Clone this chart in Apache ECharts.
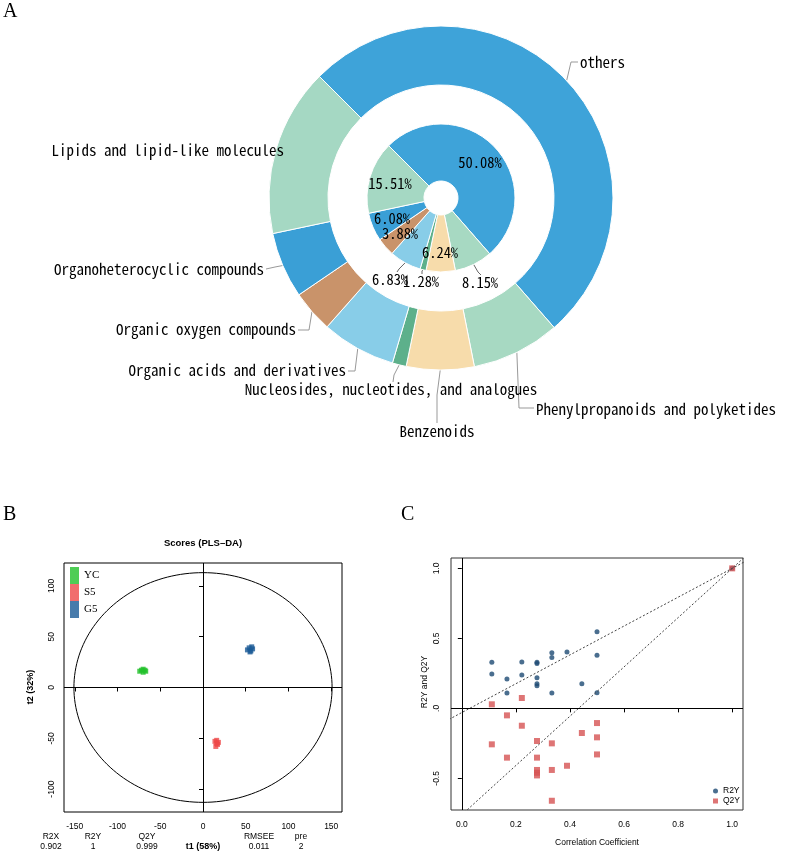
<!DOCTYPE html>
<html><head><meta charset="utf-8">
<script src="https://cdn.jsdelivr.net/npm/echarts@6/dist/echarts.min.js"></script>
<style>html,body{margin:0;padding:0;background:#fff}#c{width:800px;height:851px}</style>
</head><body><div id="c"></div>
<script>
// ---------- Panel A data ----------
const pieCategories = ['others', 'Phenylpropanoids and polyketides', 'Benzenoids',
  'Nucleosides, nucleotides, and analogues', 'Organic acids and derivatives',
  'Organic oxygen compounds', 'Organoheterocyclic compounds', 'Lipids and lipid-like molecules'];
const piePercents = [50.08, 8.15, 6.24, 1.28, 6.83, 3.88, 6.08, 15.51];
const pieColors = ['#3ea3d9', '#a7d9c2', '#f7dcab', '#5db08b', '#88cde8', '#c9936a', '#3a9fd6', '#a5d8c3'];
const innerLabelOutside = [false, true, false, true, true, false, false, false];

// ---------- Panel B data ----------
const plsGroups = ['YC', 'S5', 'G5'];
const plsColors = ['#22c02a', '#ee4848', '#1a5a96'];
const plsYC = [[-74, 16], [-72, 17], [-70, 15], [-68, 17], [-70, 18], [-67, 16]];
const plsS5 = [[14, -53], [16, -52], [17, -56], [15, -58], [18, -54], [16, -55]];
const plsG5 = [[52, 37], [54, 39], [56, 36], [58, 38], [57, 40], [55, 35]];
const plsXTicks = [-150, -100, -50, 0, 50, 100, 150];
const plsYTicks = [-100, -50, 0, 50, 100];
const ellipseRadiusX = 151, ellipseRadiusY = 113;
const statNames = ['R2X', 'R2Y', 'Q2Y', 'RMSEE', 'pre'];
const statValues = ['0.902', '1', '0.999', '0.011', '2'];

// ---------- Panel C data ----------
const permR2Y = [[0.111, 0.329], [0.111, 0.245], [0.167, 0.210], [0.167, 0.110], [0.222, 0.331], [0.222, 0.238],
  [0.278, 0.329], [0.278, 0.321], [0.278, 0.219], [0.278, 0.176], [0.278, 0.162], [0.333, 0.398], [0.333, 0.364],
  [0.333, 0.110], [0.389, 0.402], [0.444, 0.176], [0.5, 0.548], [0.5, 0.379], [0.5, 0.112], [1.0, 1.0]];
const permQ2Y = [[0.111, 0.029], [0.111, -0.257], [0.167, -0.050], [0.167, -0.352], [0.222, 0.074], [0.222, -0.124],
  [0.278, -0.233], [0.278, -0.352], [0.278, -0.440], [0.278, -0.460], [0.278, -0.479], [0.333, -0.250], [0.333, -0.440],
  [0.333, -0.660], [0.389, -0.410], [0.444, -0.176], [0.5, -0.105], [0.5, -0.207], [0.5, -0.329], [1.0, 1.0]];
const r2yIntercept = -0.03, q2yIntercept = -0.76;
const permXTicks = [0, 0.2, 0.4, 0.6, 0.8, 1.0];
const permYTicks = [-0.5, 0, 0.5, 1.0];

// ---------- label layout (text placement only) ----------
const outerLabelPlace = [
  {x: 580, y: 62, align: 'left', bend: [571, 62], end: [578, 62]},
  {x: 536, y: 409, align: 'left', bend: [519, 408], end: [534, 408]},
  {x: 437, y: 431, align: 'center', bend: [437, 395], end: [437, 423]},
  {x: 391, y: 389, align: 'center', bend: [394, 375], end: [393, 382]},
  {x: 346, y: 370, align: 'right', bend: [355, 371], end: [348, 371]},
  {x: 296, y: 329, align: 'right', bend: [309, 330], end: [298, 330]},
  {x: 264, y: 269, align: 'right', bend: [275, 267], end: [266, 269]},
  {x: 284, y: 150, align: 'right', bend: null, end: null}
];
const innerLabelPlace = [
  {x: 480, y: 162}, {x: 480, y: 282, bend: [478, 272], end: [481, 275]}, {x: 440, y: 252},
  {x: 421, y: 281, bend: [422, 271], end: [422, 274]}, {x: 390, y: 279, bend: [399, 269], end: [397, 272]},
  {x: 400, y: 233}, {x: 392, y: 218}, {x: 390, y: 183}
];

// ---------- build ----------
const chart = echarts.init(document.getElementById('c'), null, {renderer: 'canvas'});
const pieFont = '"Noto Sans Mono CJK SC", "Noto Sans CJK SC", "DejaVu Sans Mono", monospace';
const rFont = '"Liberation Sans", Arial, sans-serif';

const outerData = pieCategories.map((n, i) => ({name: n, value: piePercents[i], itemStyle: {color: pieColors[i]},
  labelLine: {show: !!outerLabelPlace[i].bend}}));
const innerData = pieCategories.map((n, i) => ({
  name: n, value: piePercents[i], itemStyle: {color: pieColors[i]},
  label: {position: innerLabelOutside[i] ? 'outside' : 'inside'},
  labelLine: {show: innerLabelOutside[i]}
}));

const ellipse = [];
for (let k = 0; k <= 180; k++) {
  const t = k / 180 * Math.PI * 2;
  ellipse.push([ellipseRadiusX * Math.cos(t), ellipseRadiusY * Math.sin(t)]);
}
const lineThrough = (b) => [[-0.1, b + (1 - b) * -0.1], [1.1, b + (1 - b) * 1.1]];

const placeLabel = (places) => (params) => {
  const p = places[params.dataIndex];
  const res = {x: p.x, y: p.y, align: p.align || 'center', verticalAlign: 'middle', hideOverlap: false, moveOverlap: false};
  if (p.bend && params.labelLinePoints) {
    res.labelLinePoints = [params.labelLinePoints[0], p.bend, p.end];
  }
  return res;
};

const axisCommon = {
  type: 'value', splitLine: {show: false}, axisLine: {show: false},
  axisTick: {show: true, length: 4, lineStyle: {color: '#000', width: 1}},
  axisLabel: {color: '#000', fontFamily: rFont, fontSize: 8.5}
};

const zeroLines = (x, y) => ({
  silent: true, symbol: 'none', label: {show: false},
  lineStyle: {color: '#000', type: 'solid', width: 1},
  data: [{xAxis: x}, {yAxis: y}]
});

const option = {
  animation: false,
  backgroundColor: '#fff',
  grid: [
    {left: 64, top: 563, width: 278, height: 249, show: true, borderColor: '#000', borderWidth: 1},
    {left: 451, top: 558, width: 292, height: 252, show: true, borderColor: '#333', borderWidth: 1}
  ],
  xAxis: [
    Object.assign({}, axisCommon, {gridIndex: 0, min: -162.6, max: 162.6,
      axisTick: Object.assign({}, axisCommon.axisTick, {customValues: plsXTicks}),
      axisLabel: Object.assign({}, axisCommon.axisLabel, {customValues: plsXTicks, margin: 10})}),
    Object.assign({}, axisCommon, {gridIndex: 1, min: -0.04, max: 1.04,
      axisTick: Object.assign({}, axisCommon.axisTick, {customValues: permXTicks}),
      axisLabel: Object.assign({}, axisCommon.axisLabel, {customValues: permXTicks, margin: 10,
        formatter: v => v.toFixed(1)})})
  ],
  yAxis: [
    Object.assign({}, axisCommon, {gridIndex: 0, min: -122.5, max: 122.5,
      axisTick: Object.assign({}, axisCommon.axisTick, {customValues: plsYTicks}),
      axisLabel: Object.assign({}, axisCommon.axisLabel, {customValues: plsYTicks, rotate: 90, margin: 8})}),
    Object.assign({}, axisCommon, {gridIndex: 1, min: -0.726, max: 1.074,
      axisTick: Object.assign({}, axisCommon.axisTick, {customValues: permYTicks}),
      axisLabel: Object.assign({}, axisCommon.axisLabel, {customValues: permYTicks, rotate: 90, margin: 10,
        formatter: v => (v === 0 ? '.0' : v.toFixed(1))})})
  ],
  legend: [
    {data: plsGroups, orient: 'vertical', left: 65, top: 562, itemWidth: 9, itemHeight: 17, itemGap: 0,
      icon: 'rect', textStyle: {fontFamily: '"Liberation Serif", serif', fontSize: 11, color: '#000'}},
    {data: [{name: 'R2Y', icon: 'circle'}, {name: 'Q2Y', icon: 'rect'}], orient: 'vertical', left: 708, top: 781,
      itemWidth: 5, itemHeight: 5, itemGap: 0,
      textStyle: {fontFamily: rFont, fontSize: 8.5, color: '#000', lineHeight: 10}}
  ],
  series: [
    {
      name: 'outer', type: 'pie', center: [441, 198], radius: [113, 172], startAngle: 135, clockwise: true,
      data: outerData, avoidLabelOverlap: false,
      itemStyle: {borderColor: '#fff', borderWidth: 1},
      label: {show: true, position: 'outside', formatter: '{b}', fontFamily: pieFont, fontSize: 15, color: '#000'},
      labelLine: {show: true, length: 12, length2: 12, lineStyle: {color: '#999', width: 1}},
      labelLayout: placeLabel(outerLabelPlace)
    },
    {
      name: 'inner', type: 'pie', center: [441, 198], radius: [17, 74], startAngle: 135, clockwise: true,
      data: innerData, avoidLabelOverlap: false,
      itemStyle: {borderColor: '#fff', borderWidth: 1},
      label: {show: true, formatter: p => piePercents[p.dataIndex].toFixed(2) + '%', fontFamily: pieFont, fontSize: 14.5, color: '#000'},
      labelLine: {length: 8, length2: 0, lineStyle: {color: '#666', width: 1}},
      labelLayout: placeLabel(innerLabelPlace)
    },
    {name: 'YC', type: 'scatter', xAxisIndex: 0, yAxisIndex: 0, data: plsYC, symbol: 'rect', symbolSize: 5, itemStyle: {color: plsColors[0]},
      markLine: zeroLines(0, 0)},
    {name: 'S5', type: 'scatter', xAxisIndex: 0, yAxisIndex: 0, data: plsS5, symbol: 'rect', symbolSize: 5, itemStyle: {color: plsColors[1]}},
    {name: 'G5', type: 'scatter', xAxisIndex: 0, yAxisIndex: 0, data: plsG5, symbol: 'rect', symbolSize: 5, itemStyle: {color: plsColors[2]}},
    {name: 'ellipse', type: 'line', xAxisIndex: 0, yAxisIndex: 0, data: ellipse, showSymbol: false, symbol: 'none',
      lineStyle: {color: '#000', width: 1}, silent: true},
    {name: 'r2yLine', type: 'line', xAxisIndex: 1, yAxisIndex: 1, data: lineThrough(r2yIntercept), symbol: 'none',
      lineStyle: {color: '#444', width: 1, type: [2, 2]}, silent: true, clip: true,
      markLine: zeroLines(0, 0)},
    {name: 'q2yLine', type: 'line', xAxisIndex: 1, yAxisIndex: 1, data: lineThrough(q2yIntercept), symbol: 'none',
      lineStyle: {color: '#444', width: 1, type: [2, 2]}, silent: true, clip: true},
    {name: 'R2Y', type: 'scatter', xAxisIndex: 1, yAxisIndex: 1, data: permR2Y, symbol: 'circle', symbolSize: 5, itemStyle: {color: '#1d4a73'}},
    {name: 'Q2Y', type: 'scatter', xAxisIndex: 1, yAxisIndex: 1, data: permQ2Y, symbol: 'rect', symbolSize: 6, itemStyle: {color: '#d65252'}}
  ],
  graphic: [
    {type: 'text', left: 3, top: 2, style: {text: 'A', font: '20px "Liberation Serif", serif', fill: '#000'}},
    {type: 'text', left: 3, top: 505, style: {text: 'B', font: '20px "Liberation Serif", serif', fill: '#000'}},
    {type: 'text', left: 401, top: 505, style: {text: 'C', font: '20px "Liberation Serif", serif', fill: '#000'}},
    {type: 'text', x: 203, y: 543, style: {text: 'Scores (PLS\u2013DA)', font: 'bold 9.5px "Liberation Sans"', fill: '#000', align: 'center', verticalAlign: 'middle'}},
    {type: 'text', x: 203, y: 847, style: {text: 't1 (58%)', font: 'bold 9px "Liberation Sans"', fill: '#000', align: 'center', verticalAlign: 'middle'}},
    {type: 'text', x: 31, y: 687, rotation: Math.PI / 2, style: {text: 't2 (32%)', font: 'bold 9px "Liberation Sans"', fill: '#000', align: 'center', verticalAlign: 'middle'}},
    {type: 'text', x: 597, y: 843, style: {text: 'Correlation Coefficient', font: '8.5px "Liberation Sans"', fill: '#000', align: 'center', verticalAlign: 'middle'}},
    {type: 'text', x: 425, y: 682, rotation: Math.PI / 2, style: {text: 'R2Y and Q2Y', font: '8.5px "Liberation Sans"', fill: '#000', align: 'center', verticalAlign: 'middle'}}
  ].concat(statNames.map((s, i) => ({type: 'text', x: [51, 93, 147, 259, 301][i], y: 837,
      style: {text: s, font: '8.5px "Liberation Sans"', fill: '#000', align: 'center', verticalAlign: 'middle'}})))
   .concat(statValues.map((s, i) => ({type: 'text', x: [51, 93, 147, 259, 301][i], y: 847,
      style: {text: s, font: '8.5px "Liberation Sans"', fill: '#000', align: 'center', verticalAlign: 'middle'}})))
};
chart.setOption(option);
</script>
</body></html>
